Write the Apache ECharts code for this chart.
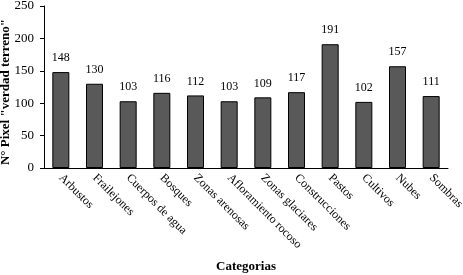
<!DOCTYPE html>
<html><head><meta charset="utf-8">
<script src="https://cdn.jsdelivr.net/npm/echarts@6/dist/echarts.min.js"></script>
<style>html,body{margin:0;padding:0;background:#fff}#c{width:463px;height:275px}</style>
</head><body><div id="c"></div>
<script>
const categories = ["Arbustos","Frailejones","Cuerpos de agua","Bosques","Zonas arenosas","Afloramiento rocoso","Zonas glaciares","Construcciones","Pastos","Cultivos","Nubes","Sombras"];
const values = [148,130,103,116,112,103,109,117,191,102,157,111];
const yTicks = [0,50,100,150,200,250];
const FONT = '"Liberation Serif", "Times New Roman", serif';
const chart = echarts.init(document.getElementById('c'), null, {renderer:'canvas'});
chart.setOption({
  animation:false,
  grid:{left:44,right:15,top:6,bottom:107,containLabel:false,outerBoundsMode:'none'},
  xAxis:{type:'category',data:categories,
    name:'Categorias',nameLocation:'middle',nameGap:92,nameMoveOverlap:false,
    nameTextStyle:{fontFamily:FONT,fontWeight:'bold',fontSize:13,color:'#000'},
    axisLine:{lineStyle:{color:'#000',width:1}},
    axisTick:{alignWithLabel:true,length:4,lineStyle:{color:'#000'}},
    axisLabel:{rotate:-45,interval:0,fontFamily:FONT,fontSize:12,color:'#000',margin:8}},
  yAxis:{type:'value',min:yTicks[0],max:yTicks[yTicks.length-1],interval:50,
    name:'N° Pixel "verdad terreno"',nameLocation:'middle',nameGap:32,nameRotate:90,nameMoveOverlap:false,
    nameTextStyle:{fontFamily:FONT,fontWeight:'bold',fontSize:13,color:'#000',padding:[0,10,0,0]},
    axisLine:{show:true,lineStyle:{color:'#000',width:1}},
    axisTick:{show:true,length:4,lineStyle:{color:'#000'}},
    splitLine:{show:false},
    axisLabel:{fontFamily:FONT,fontSize:13,color:'#000',margin:10}},
  series:[{type:'bar',data:values,barWidth:17,
    itemStyle:{color:'#595959',borderColor:'#000',borderWidth:1},
    label:{show:true,position:'top',distance:8,fontFamily:FONT,fontSize:12,color:'#000'}}]
});
</script></body></html>
